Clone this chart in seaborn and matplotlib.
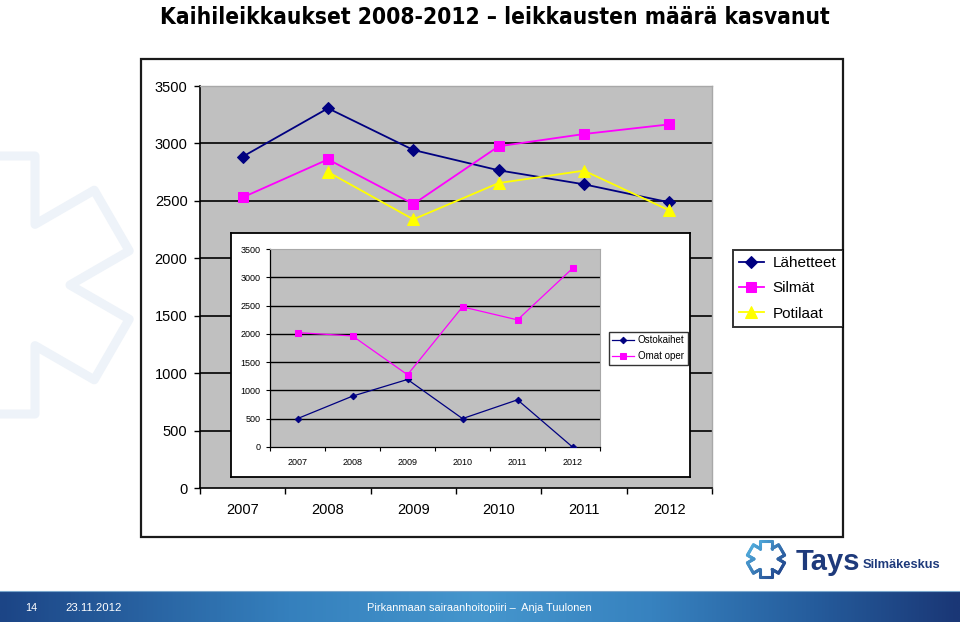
import numpy as np
import pandas as pd
import matplotlib
matplotlib.use("Agg")
import matplotlib.pyplot as plt
import seaborn as sns
from matplotlib.patches import Rectangle, Polygon
from matplotlib.collections import LineCollection
from matplotlib.colors import LinearSegmentedColormap, to_rgb
from matplotlib import font_manager
from matplotlib.font_manager import FontProperties

# ---------------- data ----------------
years = ["2007", "2008", "2009", "2010", "2011", "2012"]
lahetteet = [2885, 3306, 2943, 2766, 2644, 2487]
silmat = [2530, 2861, 2472, 2975, 3082, 3166]
potilaat = [np.nan, 2751, 2339, 2655, 2763, 2417]

ostokaihet = [502, 899, 1194, 502, 834, 0]
omat_oper = [2022, 1963, 1277, 2477, 2247, 3157]

y_ticks = [0, 500, 1000, 1500, 2000, 2500, 3000, 3500]

title = "Kaihileikkaukset 2008-2012 \u2013 leikkausten määrä kasvanut"
footer_page = "14"
footer_date = "23.11.2012"
footer_center = "Pirkanmaan sairaanhoitopiiri \u2013  Anja Tuulonen"

# ---------------- fonts ----------------
plt.rcParams["font.family"] = ["Liberation Sans", "DejaVu Sans"]


def find_narrow(bold):
    best = None
    for f in font_manager.fontManager.ttflist:
        nm = f.name
        cond = ("Narrow" in nm or "Condensed" in nm or
                f.stretch in ("condensed", "semi-condensed", "extra-condensed"))
        if not cond:
            continue
        if "Mono" in nm or "Serif" in nm:
            continue
        w = f.weight if isinstance(f.weight, int) else (700 if "bold" in str(f.weight).lower() else 400)
        if f.style != "normal":
            continue
        if bold and w < 600:
            continue
        if not bold and w >= 600:
            continue
        score = 0 if "Liberation" in nm else (1 if "Sans" in nm else 2)
        if best is None or score < best[0]:
            best = (score, f.fname)
    return FontProperties(fname=best[1]) if best else None


fp_title = find_narrow(True) or FontProperties(family="Liberation Sans", weight="bold")
fp_foot = FontProperties(family="Liberation Sans")

W, H = 960, 622
fig = plt.figure(figsize=(9.6, 6.22), dpi=100)


def fax(x0, y0, x1, y1):
    return [x0 / W, 1 - y1 / H, (x1 - x0) / W, (y1 - y0) / H]


def fit(t, target_w):
    r = fig.canvas.get_renderer()
    bb = t.get_window_extent(renderer=r)
    t.set_fontsize(t.get_fontsize() * target_w / bb.width)


# ---------------- background layer ----------------
bg = fig.add_axes([0, 0, 1, 1], zorder=-10)
bg.set_xlim(0, W)
bg.set_ylim(H, 0)
bg.axis("off")


def star_pts(cx, cy, L, w):
    pts = []
    for k in range(6):
        a = np.deg2rad(90 - 60 * k)
        d = np.array([np.cos(a), np.sin(a)])
        p = np.array([-np.sin(a), np.cos(a)])
        for v in (L * d + w * p, L * d - w * p):
            pts.append(v)
        b = a - np.deg2rad(30)
        pts.append(2 * w * np.array([np.cos(b), np.sin(b)]))
    pts = np.array(pts)
    return np.column_stack([cx + pts[:, 0], cy - pts[:, 1]])


# watermark star
wm = star_pts(0, 285, 129, 35)
bg.add_patch(Polygon(wm, closed=True, fill=False, edgecolor="#eef3f9",
                     linewidth=6.5, joinstyle="round"))

# outer frame of chart
bg.add_patch(Rectangle((141, 59), 843 - 141, 537 - 59, fill=False,
                       edgecolor="#1a1a1a", linewidth=1.6))

# title
t_title = bg.text(495, 24, title, ha="center", va="baseline",
                  fontproperties=fp_title, color="black")
t_title.set_fontsize(22)

# footer gradient
stops = [(0.0, "#1c4586"), (0.3, "#3580bd"), (0.5, "#4596cd"),
         (0.68, "#3782bf"), (0.85, "#255c9c"), (1.0, "#1a3776")]
cmap = LinearSegmentedColormap.from_list("foot", stops)
grad = np.linspace(0, 1, 512)[None, :]
bg.imshow(grad, cmap=cmap, extent=[0, W, 622, 591], aspect="auto", zorder=1)
bg.plot([0, W], [591, 591], color="#7aa6cc", linewidth=0.8, zorder=2)
t_page = bg.text(31.5, 611, footer_page, color="white", ha="center",
                 va="baseline", fontproperties=fp_foot, zorder=3)
t_date = bg.text(94, 611, footer_date, color="white", ha="center",
                 va="baseline", fontproperties=fp_foot, zorder=3)
t_cent = bg.text(479.5, 611, footer_center, color="white", ha="center",
                 va="baseline", fontproperties=fp_foot, zorder=3)
for t in (t_page, t_date, t_cent):
    t.set_fontsize(9)

# Tays logo
lp = star_pts(766, 559, 18, 6)
lp = np.vstack([lp, lp[:1]])
dense = []
for i in range(len(lp) - 1):
    for tt in np.linspace(0, 1, 8, endpoint=False):
        dense.append(lp[i] * (1 - tt) + lp[i + 1] * tt)
dense.append(lp[-1])
dense = np.array(dense)
segs = np.stack([dense[:-1], dense[1:]], axis=1)
c_light, c_dark = np.array(to_rgb("#58bbe8")), np.array(to_rgb("#1d3c86"))
mid = segs.mean(axis=1)
tpar = np.clip(((mid[:, 0] - 748) + (mid[:, 1] - 541)) / 70, 0, 1)
cols = [c_light * (1 - t) + c_dark * t for t in tpar]
bg.add_collection(LineCollection(segs, colors=cols, linewidths=2.2,
                                 capstyle="round", joinstyle="round"))
bg.text(796, 570, "Tays", fontsize=21, fontweight="bold", color="#1e3a7b",
        ha="left", va="baseline", family=["Liberation Sans", "DejaVu Sans"])
bg.text(863, 568, "Silmäkeskus", fontsize=9.3, fontweight="bold",
        color="#1e3a7b", ha="left", va="baseline",
        family=["Liberation Sans", "DejaVu Sans"])

# ---------------- main chart ----------------
pos = np.arange(len(years))
ax = fig.add_axes(fax(200, 86, 712, 488), zorder=0)
ax.set_facecolor("#c0c0c0")

navy, magenta, yellow = "#000080", "#ff00ff", "#ffff00"
sns.lineplot(x=pos, y=lahetteet, ax=ax, color=navy, marker="D",
             markersize=6, markeredgecolor=navy, linewidth=1.3,
             label="Lähetteet", zorder=5)
sns.lineplot(x=pos, y=silmat, ax=ax, color=magenta, marker="s",
             markersize=7, markeredgecolor=magenta, linewidth=1.3,
             label="Silmät", zorder=5)
sns.lineplot(x=pos, y=potilaat, ax=ax, color=yellow, marker="^",
             markersize=8, markeredgecolor=yellow, linewidth=1.3,
             label="Potilaat", zorder=5)

ax.set_xlim(-0.5, len(years) - 0.5)
ax.set_ylim(0, 3500)
ax.set_yticks(y_ticks)
ax.set_yticklabels([str(v) for v in y_ticks])
ax.set_xticks(pos)
ax.set_xticklabels(years)
ax.set_xticks(np.arange(-0.5, len(years), 1), minor=True)
ax.tick_params(axis="x", which="major", length=0, pad=11, labelsize=10.5)
ax.tick_params(axis="x", which="minor", length=4, width=1, color="black",
               direction="out")
ax.tick_params(axis="y", length=4, width=1, color="black", pad=5,
               labelsize=10.5)
for v in y_ticks[1:-1]:
    ax.axhline(v, color="black", linewidth=1.2, zorder=1)
ax.set_xlabel("")
ax.set_ylabel("")
for s in ("left", "bottom"):
    ax.spines[s].set_color("black")
    ax.spines[s].set_linewidth(1.2)
for s in ("top", "right"):
    ax.spines[s].set_color("#a8a8a8")
    ax.spines[s].set_linewidth(1.0)
handles, labels = ax.get_legend_handles_labels()
ax.get_legend().remove()

leg = fig.legend(handles, labels, loc="upper left",
                 bbox_to_anchor=(733 / W, 1 - 250 / H),
                 bbox_transform=fig.transFigure, borderaxespad=0,
                 frameon=True, fancybox=False, fontsize=11,
                 handlelength=1.6, handletextpad=0.6, labelspacing=0.74,
                 borderpad=0.4)
leg.get_frame().set_edgecolor("black")
leg.get_frame().set_linewidth(1.4)
leg.set_zorder(20)

# ---------------- inset chart ----------------
box = fig.add_axes(fax(231, 233, 690, 477), zorder=1)
box.set_facecolor("white")
box.set_xticks([])
box.set_yticks([])
for s in box.spines.values():
    s.set_color("black")
    s.set_linewidth(1.3)

ins = fig.add_axes(fax(270, 249, 600, 447), zorder=2)
ins.set_facecolor("#c0c0c0")
sns.lineplot(x=pos, y=ostokaihet, ax=ins, color=navy, marker="D",
             markersize=3.3, markeredgecolor=navy, linewidth=0.9,
             label="Ostokaihet", zorder=5)
sns.lineplot(x=pos, y=omat_oper, ax=ins, color=magenta, marker="s",
             markersize=4.3, markeredgecolor=magenta, linewidth=0.9,
             label="Omat oper", zorder=5)
ins.set_xlim(-0.5, len(years) - 0.5)
ins.set_ylim(0, 3500)
ins.set_yticks(y_ticks)
ins.set_yticklabels([str(v) for v in y_ticks])
ins.set_xticks(pos)
ins.set_xticklabels(years)
ins.set_xticks(np.arange(-0.5, len(years), 1), minor=True)
ins.tick_params(axis="x", which="major", length=0, pad=8, labelsize=6.5)
ins.tick_params(axis="x", which="minor", length=3, width=0.8,
                color="black", direction="out")
ins.tick_params(axis="y", length=3, width=0.8, color="black", pad=4,
                labelsize=6.5)
for v in y_ticks[1:-1]:
    ins.axhline(v, color="black", linewidth=1.0, zorder=1)
ins.set_xlabel("")
ins.set_ylabel("")
for s in ("left", "bottom"):
    ins.spines[s].set_color("black")
    ins.spines[s].set_linewidth(0.9)
for s in ("top", "right"):
    ins.spines[s].set_color("#a8a8a8")
    ins.spines[s].set_linewidth(0.8)
h2, l2 = ins.get_legend_handles_labels()
ins.get_legend().remove()
leg2 = fig.legend(h2, l2, loc="upper left",
                  bbox_to_anchor=(609 / W, 1 - 332 / H),
                  bbox_transform=fig.transFigure, borderaxespad=0,
                  frameon=True, fancybox=False, fontsize=7,
                  handlelength=2.2, handletextpad=0.4, labelspacing=0.6,
                  borderpad=0.35)
leg2.get_frame().set_edgecolor("black")
leg2.get_frame().set_linewidth(1.0)
leg2.set_zorder(21)

# fit condensed-looking texts to their measured widths in the reference
fig.canvas.draw()
fit(t_title, 666)
fit(t_date, 56)
fit(t_cent, 225)
fit(t_page, 12)

fig.savefig("out.png", dpi=100)
